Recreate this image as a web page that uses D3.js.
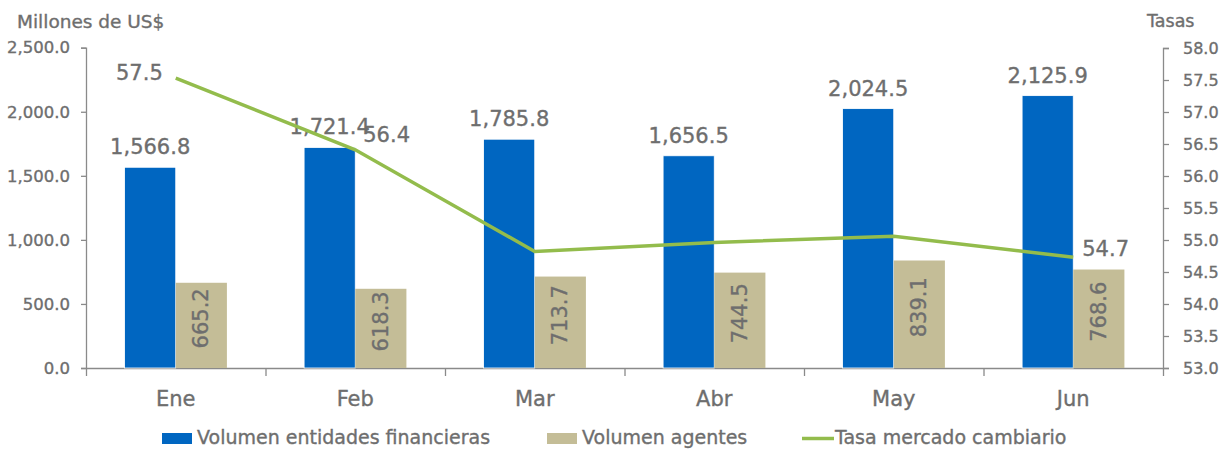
<!DOCTYPE html>
<html>
<head>
<meta charset="utf-8">
<script src="https://cdn.jsdelivr.net/npm/d3@7"></script>
<style>
  body { margin: 0; background: #fff; }
  svg { display: block; }
  text { font-family: "DejaVu Sans", sans-serif; fill: #6e6e6e; stroke: #6e6e6e; stroke-width: 0.35px; }
</style>
</head>
<body>
<svg id="chart" width="1222" height="449"></svg>
<script>
// datos
const months = ["Ene", "Feb", "Mar", "Abr", "May", "Jun"];
const entidades = [1566.8, 1721.4, 1785.8, 1656.5, 2024.5, 2125.9];
const agentes = [665.2, 618.3, 713.7, 744.5, 839.1, 768.6];
const tasa = [57.53, 56.41, 54.82, 54.96, 55.06, 54.73];
const tasaShown = [0, 1, 5];   // solo estas llevan etiqueta
const leftTicks = [0, 500, 1000, 1500, 2000, 2500];
const rightTicks = [53, 53.5, 54, 54.5, 55, 55.5, 56, 56.5, 57, 57.5, 58];
const seriesNames = ["Volumen entidades financieras", "Volumen agentes", "Tasa mercado cambiario"];

const colors = { blue: "#0066c1", tan: "#c4bd97", green: "#93bc4c", axis: "#8a8a8a" };

const svg = d3.select("#chart");
const L = 86, R = 1163, T = 47.7, B = 368;

const x0 = d3.scaleBand().domain(months).range([L, R]).paddingInner(0.43).paddingOuter(0.215);
const x1 = d3.scaleBand().domain(["ent", "age"]).range([0, x0.bandwidth()]);
const xEdge = d3.scaleLinear().domain([0, months.length]).range([L, R]);
const y = d3.scaleLinear().domain([0, 2500]).range([B, T]);
const y2 = d3.scaleLinear().domain([53, 58]).range([B, 48]);

const fmt = d3.format(",.1f");
const fmt1 = d3.format(".1f");

// ejes
const gl = svg.append("g").attr("transform", `translate(${L},0)`)
  .call(d3.axisLeft(y).tickValues(leftTicks).tickFormat(fmt).tickSize(5).tickPadding(11));
const gr = svg.append("g").attr("transform", `translate(${R},0)`)
  .call(d3.axisRight(y2).tickValues(rightTicks).tickFormat(fmt1).tickSize(6).tickPadding(14));
const gx = svg.append("g").attr("transform", `translate(0,${B})`)
  .call(d3.axisBottom(xEdge).ticks(months.length).tickFormat("").tickSize(8).tickSizeOuter(0));
const gxl = svg.append("g").attr("transform", `translate(0,${B})`)
  .call(d3.axisBottom(x0).tickSize(0).tickPadding(23));

[gl, gr, gx, gxl].forEach(g => {
  g.selectAll("path, line").attr("stroke", colors.axis).attr("stroke-width", 1.3);
  g.selectAll("text").attr("fill", "#6e6e6e").style("font-family", "DejaVu Sans, sans-serif");
});
gl.selectAll("text").style("font-size", "16.5px");
gr.selectAll("text").style("font-size", "16px");
gxl.select(".domain").remove();
gxl.selectAll("text").style("font-size", "21px");

// titulos de ejes
svg.append("text").attr("x", 17).attr("y", 28).style("font-size", "18.5px").text("Millones de US$");
svg.append("text").attr("x", 1147).attr("y", 27).style("font-size", "17.5px").text("Tasas");

// barras
const groups = svg.append("g").selectAll("g").data(months).join("g")
  .attr("transform", d => `translate(${x0(d)},0)`);

groups.append("rect")
  .attr("x", x1("ent")).attr("width", x1.bandwidth())
  .attr("y", (d, i) => y(entidades[i])).attr("height", (d, i) => B - y(entidades[i]))
  .attr("fill", colors.blue).attr("stroke", "#fff").attr("stroke-width", 0.8);

groups.append("rect")
  .attr("x", x1("age")).attr("width", x1.bandwidth())
  .attr("y", (d, i) => y(agentes[i])).attr("height", (d, i) => B - y(agentes[i]))
  .attr("fill", colors.tan);

groups.append("text")
  .attr("x", x1("ent") + x1.bandwidth() / 2)
  .attr("y", (d, i) => y(entidades[i]) - 13)
  .attr("text-anchor", "middle").style("font-size", "21px")
  .text((d, i) => fmt(entidades[i]));

groups.append("text")
  .attr("transform", (d, i) => {
    const cx = x1("age") + x1.bandwidth() / 2;
    const cy = (y(agentes[i]) + y(0)) / 2 - 7;
    return `translate(${cx},${cy}) rotate(-90)`;
  })
  .attr("text-anchor", "middle").attr("dominant-baseline", "central")
  .style("font-size", "21px")
  .text((d, i) => fmt(agentes[i]));

// linea de tasa
const cx = m => x0(m) + x0.bandwidth() / 2;
const line = d3.line().x((d, i) => cx(months[i])).y(d => y2(d));
svg.append("path").datum(tasa).attr("d", line)
  .attr("fill", "none").attr("stroke", colors.green).attr("stroke-width", 3.5);

const labelPos = { 0: [-13, -5, "end"], 1: [8, -15, "start"], 5: [9, -8, "start"] };
svg.append("g").selectAll("text").data(tasaShown).join("text")
  .attr("x", i => cx(months[i]) + labelPos[i][0])
  .attr("y", i => y2(tasa[i]) + labelPos[i][1])
  .attr("text-anchor", i => labelPos[i][2])
  .attr("dominant-baseline", "central")
  .style("font-size", "21px")
  .text(i => fmt1(tasa[i]));

// leyenda
const legend = svg.append("g");
const lx = [162, 547, 802];
seriesNames.forEach((name, k) => {
  if (k < 2) {
    legend.append("rect").attr("x", lx[k]).attr("y", 433).attr("width", 30).attr("height", 11)
      .attr("fill", k === 0 ? colors.blue : colors.tan);
  } else {
    legend.append("line").attr("x1", lx[k]).attr("x2", lx[k] + 32).attr("y1", 438.5).attr("y2", 438.5)
      .attr("stroke", colors.green).attr("stroke-width", 3.5);
  }
  legend.append("text").attr("x", lx[k] + (k < 2 ? 35 : 33)).attr("y", 444)
    .style("font-size", "19px").text(name);
});
</script>
</body>
</html>
